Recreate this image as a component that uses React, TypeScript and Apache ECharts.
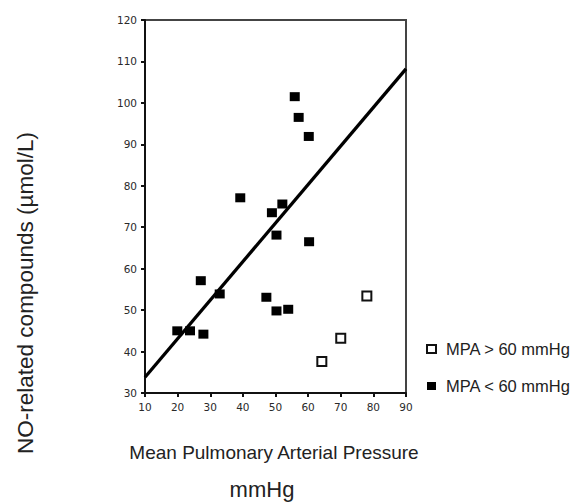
import React, { useEffect, useRef } from "react";
import * as echarts from "echarts";

const seriesNames = ["MPA > 60 mmHg", "MPA < 60 mmHg"];
const lowMpaX = [55.9, 57.1, 60.2, 39.2, 48.9, 52.1, 50.3, 60.3, 27.1, 32.9, 19.9, 23.8, 27.9, 47.2, 50.3, 53.9];
const lowMpaY = [101.5, 96.5, 91.9, 77.1, 73.5, 75.6, 68.1, 66.5, 57.1, 53.9, 45.0, 45.0, 44.2, 53.1, 49.8, 50.2];
const highMpaX = [64.2, 70.0, 78.0];
const highMpaY = [37.6, 43.2, 53.4];
const fitX = [10, 90];
const fitY = [33.8, 108.2];

const xTitle = "Mean Pulmonary Arterial Pressure";
const xUnit = "mmHg";
const yTitle = "NO-related compounds (µmol/L)";

export default function App() {
  const ref = useRef<HTMLDivElement>(null);
  useEffect(() => {
    if (!ref.current) return;
    const chart = echarts.init(ref.current, undefined, { renderer: "svg" });
    const axisCommon = {
      type: "value" as const,
      interval: 10,
      splitLine: { show: false },
      axisLine: { show: true, lineStyle: { color: "#111", width: 2 } },
      axisTick: { show: true, length: 4, lineStyle: { color: "#111", width: 2 } },
      axisLabel: { fontSize: 10.5, color: "#2a2a2a", fontFamily: "DejaVu Sans", margin: 8 },
    };
    chart.setOption({
      animation: false,
      backgroundColor: "#fff",
      grid: { left: 145, right: 168, top: 20, bottom: 111, show: true, borderColor: "#444", borderWidth: 2 },
      xAxis: { ...axisCommon, min: 10, max: 90 },
      yAxis: { ...axisCommon, min: 30, max: 120 },
      legend: {
        orient: "vertical",
        left: 421,
        top: 335,
        itemGap: 19,
        itemWidth: 9,
        itemHeight: 8,
        data: [
          { name: seriesNames[0], icon: "rect" },
          { name: seriesNames[1], icon: "rect" },
        ],
        textStyle: { fontSize: 16.5, fontFamily: "Arial, 'Liberation Sans'", color: "#222", lineHeight: 18, padding: [0, 0, 0, 5] },
      },
      series: [
        {
          type: "line",
          data: fitX.map((x, i) => [x, fitY[i]]),
          symbol: "none",
          lineStyle: { color: "#000", width: 3.3 },
          z: 1,
          silent: true,
        },
        {
          name: seriesNames[0],
          type: "scatter",
          data: highMpaX.map((x, i) => [x, highMpaY[i]]),
          symbol: "rect",
          symbolSize: [9, 9],
          itemStyle: { color: "#fff", borderColor: "#111", borderWidth: 2, opacity: 1 },
          z: 3,
        },
        {
          name: seriesNames[1],
          type: "scatter",
          data: lowMpaX.map((x, i) => [x, lowMpaY[i]]),
          symbol: "rect",
          symbolSize: [10, 9],
          itemStyle: { color: "#000", opacity: 1 },
          z: 3,
        },
      ],
      graphic: [
        {
          type: "text",
          x: 274,
          y: 452,
          style: { text: xTitle, fontSize: 19, fontFamily: "Arial, 'Liberation Sans'", fill: "#222", align: "center", verticalAlign: "middle" },
        },
        {
          type: "text",
          x: 262,
          y: 489,
          style: { text: xUnit, fontSize: 22, fontFamily: "Arial, 'Liberation Sans'", fill: "#222", align: "center", verticalAlign: "middle" },
        },
        {
          type: "text",
          x: 25,
          y: 293,
          rotation: Math.PI / 2,
          style: { text: yTitle, fontSize: 22.5, fontFamily: "Arial, 'Liberation Sans'", fill: "#222", align: "center", verticalAlign: "middle" },
        },
      ],
    });
    return () => chart.dispose();
  }, []);
  return <div ref={ref} style={{ position: "fixed", left: 0, top: 0, width: 574, height: 504 }} />;
}
